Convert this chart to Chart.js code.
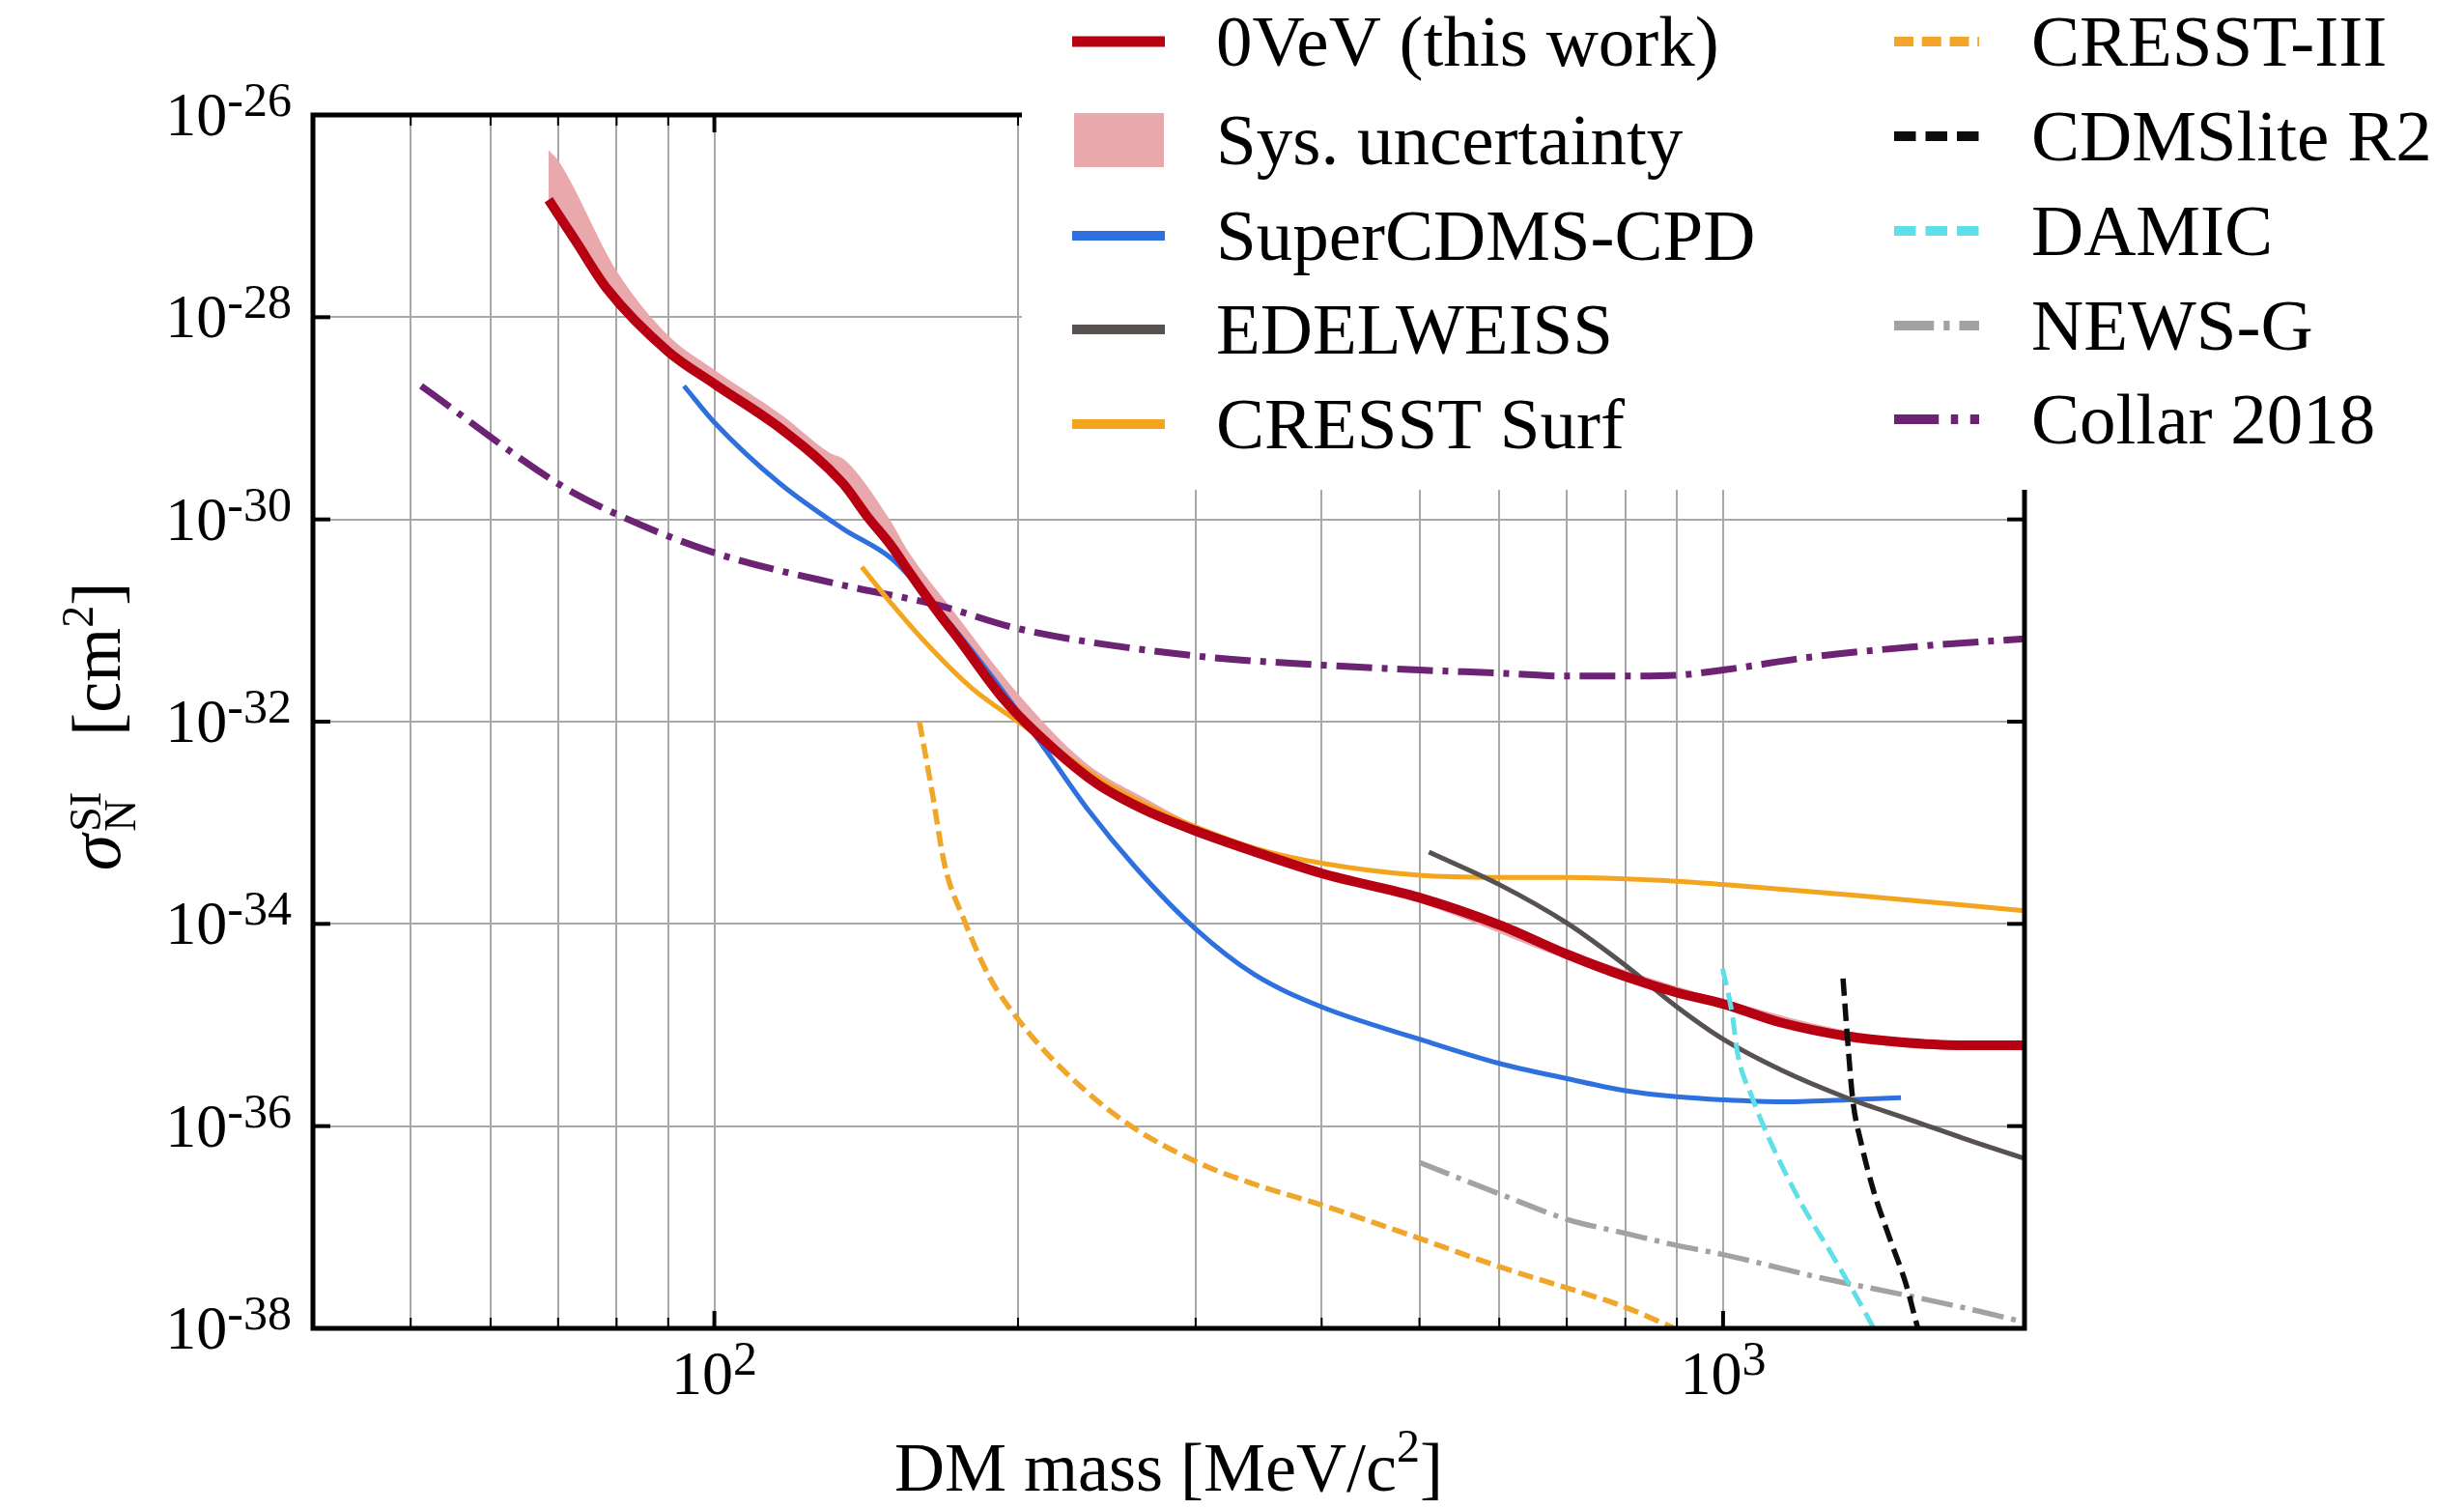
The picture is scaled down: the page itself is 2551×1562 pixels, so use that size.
<!DOCTYPE html>
<html>
<head>
<meta charset="utf-8">
<script src="https://cdn.jsdelivr.net/npm/chart.js@4.4.0/dist/chart.umd.min.js"></script>
<style>
  html, body { margin: 0; padding: 0; background: #fff; }
  canvas { display: block; }
</style>
</head>
<body>
<canvas id="limitChart" width="2551" height="1562"></canvas>
<script>
// DM mass [MeV/c^2] and cross-section [cm^2] per experiment
const ovevMass  = [68.5, 73, 78.3, 90, 100, 117, 134, 142, 150, 156, 167, 174, 194, 217, 240, 268, 300, 342, 400, 500, 600, 700, 800, 900, 1000, 1144, 1325, 1500, 1713, 1990];
const ovevSigma = [1.45e-27, 5.5e-28, 1.9e-28, 4.57e-29, 2.19e-29, 7.59e-30, 2.29e-30, 1.05e-30, 5.37e-31, 3.02e-31, 1.17e-31, 6.9e-32, 1.62e-32, 5.37e-33, 2.4e-33, 1.32e-33, 8.32e-34, 5.25e-34, 3.16e-34, 1.82e-34, 9.77e-35, 5.01e-35, 3.02e-35, 2.09e-35, 1.62e-35, 1.05e-35, 7.76e-36, 6.76e-36, 6.31e-36, 6.31e-36];

const bandMass = [68.5, 70.1, 80.1, 90, 100, 117, 130, 135, 149, 156, 173, 199, 233, 270, 300, 400, 500, 700, 1000, 1500, 1990];
const bandHigh = [4.47e-27, 3.47e-27, 2.82e-28, 6.61e-29, 3.02e-29, 1.05e-29, 4.57e-30, 3.8e-30, 1.02e-30, 4.68e-31, 1.2e-31, 2.0e-32, 3.98e-33, 1.66e-33, 9.55e-34, 3.47e-34, 2.0e-34, 5.5e-35, 1.78e-35, 7.41e-36, 6.92e-36];
const bandLow  = [1.29e-27, 9.12e-28, 1.35e-28, 4.07e-29, 1.95e-29, 6.76e-30, 2.69e-30, 1.95e-30, 5.25e-31, 2.69e-31, 6.6e-32, 1.12e-32, 2.69e-33, 1.15e-33, 7.41e-34, 2.82e-34, 1.62e-34, 4.47e-35, 1.45e-35, 6.03e-36, 5.62e-36];

const cpdMass  = [93.3, 100, 116, 134, 150, 165, 187, 212, 235, 262, 300, 343, 400, 500, 600, 700, 800, 900, 1000, 1144, 1325, 1501];
const cpdSigma = [2.09e-29, 9.12e-30, 2.29e-30, 8.13e-31, 4.07e-31, 1.45e-31, 3.09e-32, 5.62e-33, 1.32e-33, 3.55e-34, 8.91e-35, 3.16e-35, 1.51e-35, 7.24e-36, 4.17e-36, 2.95e-36, 2.24e-36, 1.95e-36, 1.82e-36, 1.74e-36, 1.82e-36, 1.91e-36];

const edelMass  = [511, 600, 700, 800, 900, 1000, 1144, 1325, 1535, 1777, 1990];
const edelSigma = [5.13e-34, 2.45e-34, 1.02e-34, 3.89e-35, 1.51e-35, 7.24e-36, 3.55e-36, 1.91e-36, 1.15e-36, 6.92e-37, 4.79e-37];

const surfMass  = [140, 150, 162, 180, 200, 217, 242, 270, 300, 343, 400, 500, 600, 700, 867, 1000, 1325, 1990];
const surfSigma = [3.39e-31, 1.45e-31, 6.03e-32, 2.14e-32, 1.0e-32, 5.62e-33, 2.63e-33, 1.45e-33, 9.12e-34, 5.62e-34, 3.98e-34, 3.02e-34, 2.88e-34, 2.88e-34, 2.69e-34, 2.45e-34, 1.95e-34, 1.35e-34];

const cresst3Mass  = [159.7, 164.3, 169.2, 176.8, 187.5, 200.3, 220.4, 255.3, 300, 342, 400, 500, 600, 700, 800, 895];
const cresst3Sigma = [1.0e-32, 2.09e-33, 3.8e-34, 1.1e-34, 2.95e-35, 1.12e-35, 3.8e-36, 1.1e-36, 4.47e-37, 2.69e-37, 1.66e-37, 7.76e-38, 4.07e-38, 2.51e-38, 1.62e-38, 1.0e-38];

const cdmsliteMass  = [1315, 1330, 1345, 1370, 1410, 1463, 1518, 1554, 1560];
const cdmsliteSigma = [2.88e-35, 6.31e-36, 1.78e-36, 6.92e-37, 2.29e-37, 7.76e-38, 2.75e-38, 1.15e-38, 1.0e-38];

const damicMass  = [999, 1021, 1034, 1067, 1115, 1201, 1282, 1400, 1410];
const damicSigma = [3.63e-35, 1.29e-35, 5.13e-36, 2.0e-36, 6.92e-37, 1.58e-37, 5.37e-38, 1.15e-38, 1.0e-38];

const newsgMass  = [500, 600, 700, 800, 900, 1000, 1250, 1530, 1777, 1990];
const newsgSigma = [4.37e-37, 2.14e-37, 1.2e-37, 8.71e-38, 6.61e-38, 5.37e-38, 3.16e-38, 2.09e-38, 1.51e-38, 1.15e-38];

const collarMass  = [51.2, 70.6, 80.1, 100, 134, 167, 200, 300, 400, 500, 600, 700, 800, 900, 1000, 1226, 1545, 1990];
const collarSigma = [2.09e-29, 2.14e-30, 1.12e-30, 4.68e-31, 2.24e-31, 1.41e-31, 8.32e-32, 4.47e-32, 3.63e-32, 3.24e-32, 3.02e-32, 2.82e-32, 2.82e-32, 2.88e-32, 3.24e-32, 4.37e-32, 5.5e-32, 6.61e-32];

// axis ticks
const xMinorVals = [50, 60, 70, 80, 90, 200, 300, 400, 500, 600, 700, 800, 900];
const xMajorVals = [100, 1000];
const xMajorExp  = ['2', '3'];
const yTickVals  = [1e-26, 1e-28, 1e-30, 1e-32, 1e-34, 1e-36, 1e-38];
const yTickExp   = ['-26', '-28', '-30', '-32', '-34', '-36', '-38'];

const legendCol1 = ['0VeV (this work)', 'Sys. uncertainty', 'SuperCDMS-CPD', 'EDELWEISS', 'CRESST Surf'];
const legendCol2 = ['CRESST-III', 'CDMSlite R2', 'DAMIC', 'NEWS-G', 'Collar 2018'];

const SERIF = "'Liberation Serif', 'DejaVu Serif', serif";

const pts = (xs, ys) => xs.map((x, i) => ({ x, y: ys[i] }));

function lineSet(label, xs, ys, color, width, dash, order) {
  return {
    label,
    data: pts(xs, ys),
    borderColor: color,
    backgroundColor: color,
    borderWidth: width,
    borderDash: dash,
    pointRadius: 0,
    fill: false,
    cubicInterpolationMode: 'monotone',
    order
  };
}

const datasets = [
  lineSet('CDMSlite R2', cdmsliteMass, cdmsliteSigma, '#0d0d0d', 5.5, [18, 8], 0),
  lineSet('DAMIC', damicMass, damicSigma, '#5fe0e8', 5, [18, 8], 1),
  lineSet('0VeV (this work)', ovevMass, ovevSigma, '#b70011', 10, [], 2),
  lineSet('NEWS-G', newsgMass, newsgSigma, '#a2a2a2', 5.5, [33, 8, 5, 8], 3),
  lineSet('CRESST-III', cresst3Mass, cresst3Sigma, '#efa62b', 5.5, [16, 7], 4),
  lineSet('EDELWEISS', edelMass, edelSigma, '#57524f', 5, [], 5),
  lineSet('CRESST Surf', surfMass, surfSigma, '#f3a51f', 5, [], 6),
  lineSet('SuperCDMS-CPD', cpdMass, cpdSigma, '#2e70de', 5, [], 7),
  lineSet('Collar 2018', collarMass, collarSigma, '#6c2374', 7, [37, 10, 6, 10], 8),
  {
    label: 'Sys. uncertainty',
    data: pts(bandMass, bandHigh),
    borderColor: 'rgba(0,0,0,0)',
    borderWidth: 1,
    backgroundColor: '#e9a8ab',
    pointRadius: 0,
    fill: '+1',
    cubicInterpolationMode: 'monotone',
    order: 9
  },
  {
    label: 'band-low',
    data: pts(bandMass, bandLow),
    borderColor: 'rgba(0,0,0,0)',
    borderWidth: 1,
    pointRadius: 0,
    fill: false,
    cubicInterpolationMode: 'monotone',
    order: 10
  }
];

function styleOf(label) {
  return datasets.find(d => d.label === label);
}

// spines, ticks, labels and legend
const decor = {
  id: 'decor',
  afterDraw(chart) {
    const { ctx, chartArea: a, scales: { x, y } } = chart;
    ctx.save();
    ctx.strokeStyle = '#000';
    ctx.fillStyle = '#000';

    ctx.lineWidth = 5;
    ctx.strokeRect(a.left, a.top, a.right - a.left, a.bottom - a.top);

    const seg = (x1, y1, x2, y2, w) => {
      ctx.lineWidth = w;
      ctx.beginPath();
      ctx.moveTo(x1, y1);
      ctx.lineTo(x2, y2);
      ctx.stroke();
    };
    xMinorVals.forEach(v => {
      const px = x.getPixelForValue(v);
      seg(px, a.bottom, px, a.bottom - 11, 2);
      seg(px, a.top, px, a.top + 11, 2);
    });
    xMajorVals.forEach(v => {
      const px = x.getPixelForValue(v);
      seg(px, a.bottom, px, a.bottom - 18, 4);
      seg(px, a.top, px, a.top + 18, 4);
    });
    yTickVals.forEach(v => {
      const py = y.getPixelForValue(v);
      seg(a.left, py, a.left + 18, py, 4);
      seg(a.right, py, a.right - 18, py, 4);
    });

    const baseFont = '64px ' + SERIF;
    const expFont = '50px ' + SERIF;
    ctx.textAlign = 'left';
    ctx.textBaseline = 'alphabetic';

    // y tick labels
    yTickVals.forEach((v, i) => {
      const py = y.getPixelForValue(v);
      ctx.font = expFont;
      const we = ctx.measureText(yTickExp[i]).width;
      ctx.font = baseFont;
      const wb = ctx.measureText('10').width;
      const right = a.left - 22;
      ctx.fillText('10', right - we - wb, py + 21);
      ctx.font = expFont;
      ctx.fillText(yTickExp[i], right - we, py + 1);
    });

    // x tick labels
    xMajorVals.forEach((v, i) => {
      const px = x.getPixelForValue(v);
      ctx.font = expFont;
      const we = ctx.measureText(xMajorExp[i]).width;
      ctx.font = baseFont;
      const wb = ctx.measureText('10').width;
      const left = px - (wb + we) / 2;
      ctx.fillText('10', left, a.bottom + 68);
      ctx.font = expFont;
      ctx.fillText(xMajorExp[i], left + wb, a.bottom + 48);
    });

    // x title
    const titleFont = '72px ' + SERIF;
    const supFont = '48px ' + SERIF;
    ctx.font = titleFont;
    const t1 = 'DM mass [MeV/c';
    const w1 = ctx.measureText(t1).width;
    const w3 = ctx.measureText(']').width;
    ctx.font = supFont;
    const w2 = ctx.measureText('2').width;
    const tx = (a.left + a.right) / 2 - (w1 + w2 + w3) / 2;
    const tb = 1543;
    ctx.font = titleFont;
    ctx.fillText(t1, tx, tb);
    ctx.font = supFont;
    ctx.fillText('2', tx + w1, tb - 30);
    ctx.font = titleFont;
    ctx.fillText(']', tx + w1 + w2, tb);

    // y title, rotated
    ctx.save();
    ctx.translate(124, (a.top + a.bottom) / 2 + 5);
    ctx.rotate(-Math.PI / 2);
    const sigFont = 'italic 76px ' + SERIF;
    const subFont = '46px ' + SERIF;
    ctx.font = sigFont;
    const ws = ctx.measureText('σ').width;
    ctx.font = subFont;
    const wsub = Math.max(ctx.measureText('SI').width, ctx.measureText('N').width);
    const w2b = ctx.measureText('2').width;
    ctx.font = titleFont;
    const wl = ctx.measureText('[cm').width;
    const wr = ctx.measureText(']').width;
    const gap = 58;
    const total = ws + 3 + wsub + gap + wl + w2b + wr;
    let lx = -total / 2;
    ctx.font = sigFont;
    ctx.fillText('σ', lx, 0);
    lx += ws + 3;
    ctx.font = subFont;
    ctx.fillText('SI', lx, -20);
    ctx.fillText('N', lx, 16);
    lx += wsub + gap;
    ctx.font = titleFont;
    ctx.fillText('[cm', lx, 0);
    lx += wl;
    ctx.font = subFont;
    ctx.fillText('2', lx, -28);
    lx += w2b;
    ctx.font = titleFont;
    ctx.fillText(']', lx, 0);
    ctx.restore();

    // legend box
    ctx.fillStyle = '#fff';
    ctx.fillRect(1058, 0, 2551 - 1058, 507);

    const drawEntry = (label, sx, len, cy, textX) => {
      const ds = styleOf(label);
      if (label === 'Sys. uncertainty') {
        ctx.fillStyle = ds.backgroundColor;
        ctx.fillRect(sx + 2, cy - 28, len - 3, 56);
      } else {
        ctx.save();
        ctx.strokeStyle = ds.borderColor;
        ctx.lineWidth = label === '0VeV (this work)' ? 11 : 10;
        ctx.setLineDash(ds.borderDash.map(d => d * 1.25));
        ctx.beginPath();
        ctx.moveTo(sx, cy);
        ctx.lineTo(sx + len, cy);
        ctx.stroke();
        ctx.restore();
      }
      ctx.fillStyle = '#000';
      ctx.font = '75px ' + SERIF;
      ctx.fillText(label, textX, cy + 25);
    };
    const rows1 = [43, 145, 244, 341, 439];
    const rows2 = [43, 141, 239, 337, 434];
    legendCol1.forEach((l, i) => drawEntry(l, 1110, 96, rows1[i], 1259));
    legendCol2.forEach((l, i) => drawEntry(l, 1961, 88, rows2[i], 2103));

    ctx.restore();
  }
};

new Chart(document.getElementById('limitChart'), {
  type: 'line',
  data: { datasets },
  options: {
    responsive: false,
    animation: false,
    devicePixelRatio: 1,
    layout: { padding: { top: 119, right: 455, left: 0, bottom: 0 } },
    plugins: {
      legend: { display: false },
      tooltip: { enabled: false },
      filler: { propagate: false }
    },
    scales: {
      x: {
        type: 'logarithmic',
        min: 40,
        max: 1990,
        bounds: 'data',
        afterBuildTicks: s => { s.ticks = xMinorVals.concat(xMajorVals).sort((p, q) => p - q).map(v => ({ value: v })); },
        afterFit: s => { s.height = 187; },
        grid: { color: '#a8a8a8', lineWidth: 2, drawTicks: false },
        border: { display: false },
        ticks: { display: false, autoSkip: false }
      },
      y: {
        type: 'logarithmic',
        min: 1e-38,
        max: 1e-26,
        bounds: 'data',
        afterBuildTicks: s => { s.ticks = yTickVals.map(v => ({ value: v })); },
        afterFit: s => { s.width = 324; },
        grid: { color: '#a8a8a8', lineWidth: 2, drawTicks: false },
        border: { display: false },
        ticks: { display: false, autoSkip: false }
      }
    }
  },
  plugins: [decor]
});
</script>
</body>
</html>
